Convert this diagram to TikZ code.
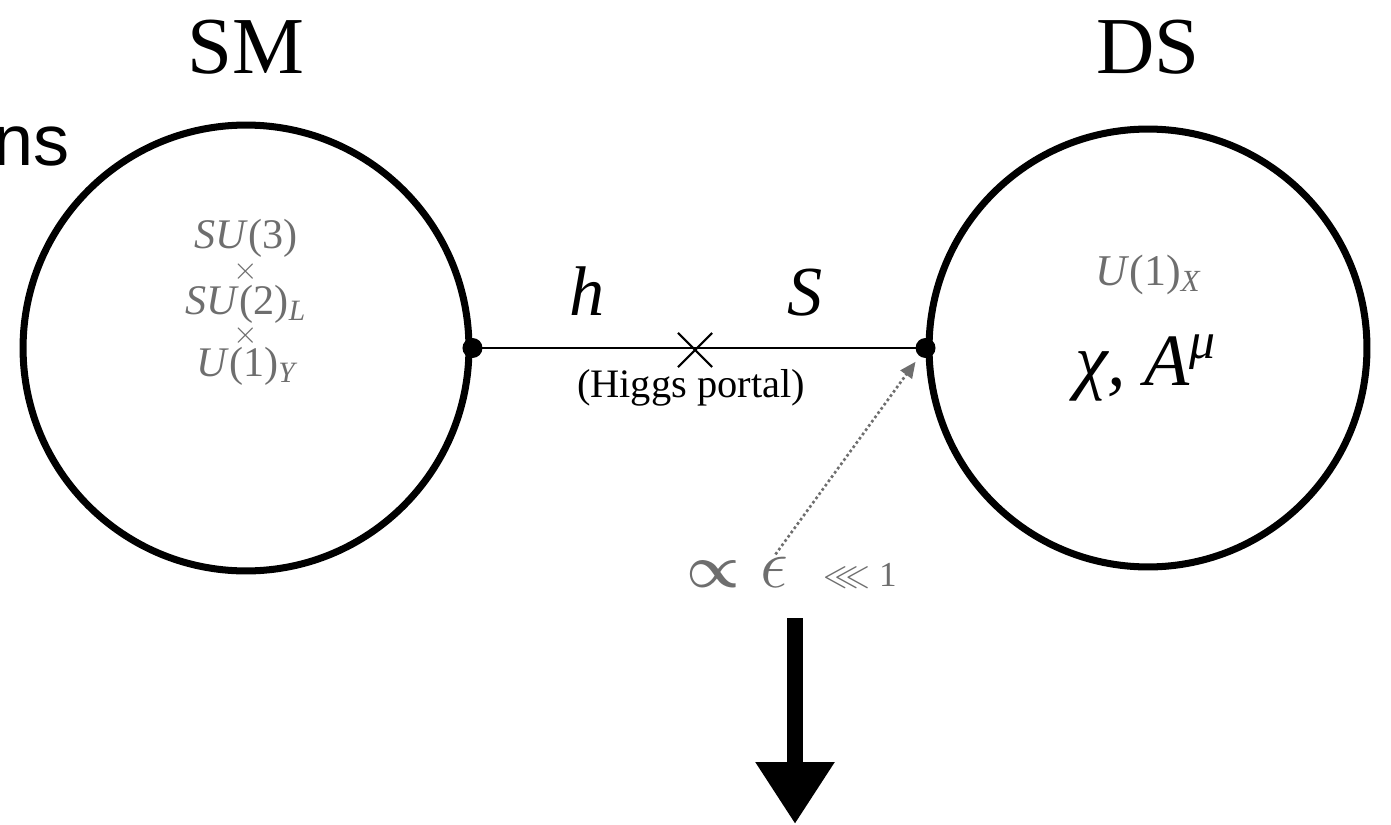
\RequirePackage{fix-cm}
\documentclass[tikz,border=0pt]{standalone}
\usepackage{amsmath, amssymb}
\usepackage{fontspec}
\setmainfont{Liberation Serif}
\newfontfamily\labelsans{Liberation Sans}
\usetikzlibrary{arrows.meta, shapes.misc, positioning}
\definecolor{groupgray}{RGB}{110,110,110}
\tikzset{>=latex}
\tikzset{sector/.style={circle, draw, line width=4pt, inner sep=0pt},
  junction/.style={circle, fill, inner sep=0pt, minimum size=0.4cm},
  grouplabel/.style={text=groupgray, inner sep=0pt, anchor=base,
    font=\fontsize{24}{24}\selectfont},
  fieldlabel/.style={inner sep=0pt, anchor=base,
    font=\fontsize{40}{40}\selectfont\itshape}}

\begin{document}
\begin{tikzpicture}[x=0.02cm, y=-0.02cm]
  \useasboundingbox (0,0) rectangle (1391,824);
  % the two sectors
  \node[sector, minimum size=8.92cm] (sm) at (246,348) {};
  \node[sector, minimum size=8.76cm] (ds) at (1148,348) {};
  \node[anchor=base, inner sep=0pt, font=\fontsize{46}{46}\selectfont] (smname) at (246,74) {SM};
  \node[anchor=base, inner sep=0pt, font=\fontsize{46}{46}\selectfont] (dsname) at (1148,74) {DS};
  \node[anchor=base west, inner sep=0pt, font=\labelsans\fontsize{41}{41}\selectfont] (cut) at (-7,166) {ns};

  % gauge groups
  \node[grouplabel] (su3) at (246,248) {\textit{SU}(3)};
  \node[grouplabel, font=\fontsize{18}{18}\selectfont] (times1) at (246,279) {$\times$};
  \node[grouplabel] (su2) at (246,314) {\textit{SU}(2)$_{\textit{L}}$};
  \node[grouplabel, font=\fontsize{18}{18}\selectfont] (times2) at (246,343) {$\times$};
  \node[grouplabel] (u1y) at (246,376) {\textit{U}(1)$_{\textit{Y}}$};
  \node[grouplabel, font=\fontsize{25}{25}\selectfont] (u1x) at (1148,285) {\textit{U}(1)$_{\textit{X}}$};
  \node[fieldlabel, font=\fontsize{42}{42}\selectfont\itshape] (fields) at (1146,385) {χ, \textit{A}\textsuperscript{μ}};

  % portal
  \draw[line width=1.4pt] (sm.east) -- (ds.west);
  \node[junction] at (sm.east) {};
  \node[junction] at (ds.west) {};
  \node[cross out, draw, line width=1.2pt, minimum size=0.64cm, inner sep=0pt] (mix) at (695,350) {};
  \node[fieldlabel] (h) at (587,315) {h};
  \node[fieldlabel] (s) at (805,315) {S};
  \node[anchor=base, inner sep=0pt, font=\fontsize{23}{23}\selectfont] (portal) at (691,397) {(Higgs portal)};

  % kinetic mixing
  \node[text=groupgray, anchor=base, inner sep=0pt, font=\fontsize{34}{34}\selectfont] (prop) at (713,587) {$\boldsymbol{\propto}$};
  \node[text=groupgray, anchor=base, inner sep=0pt, font=\fontsize{40}{40}\selectfont] (eps) at (774,587) {$\epsilon$};
  \node[text=groupgray, anchor=base, inner sep=0pt, font=\fontsize{20}{20}\selectfont] (small) at (860,586) {$\lll$ 1};
  \draw[groupgray, line width=1.5pt, dash pattern=on 1.5pt off 1.5pt, -{Triangle[length=0.32cm, width=0.28cm]}, shorten <=0.05cm, shorten >=0.34cm] (eps.north) -- (ds.west);

  \coordinate (drop) at (795,618);
  \coordinate (dropend) at (795,824);
  \draw[line width=0.32cm, -{Triangle[length=1.24cm, width=1.5cm]}] (drop) -- (dropend);
\end{tikzpicture}
\end{document}
